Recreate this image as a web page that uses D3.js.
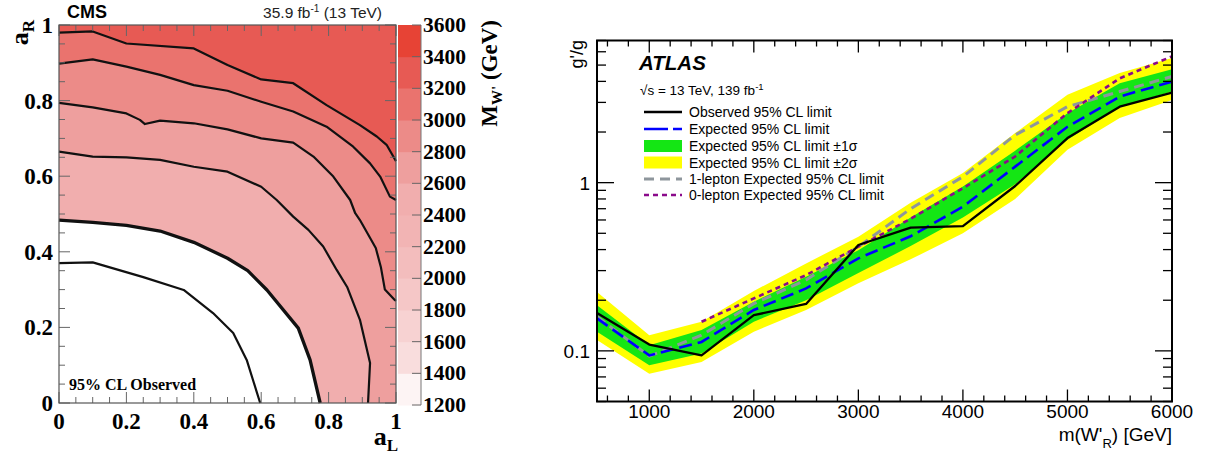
<!DOCTYPE html>
<html>
<head>
<meta charset="utf-8">
<script src="https://cdn.jsdelivr.net/npm/d3@7"></script>
<style>
  body { margin: 0; background: #fff; }
  svg { display: block; }
</style>
</head>
<body>
<div id="chart"></div>
<script>
// ---------- left panel data (CMS, a_L vs a_R contours) ----------
let contourLevels = [3200, 3000, 2800, 2600, 2400, 2200];
let contour3200 = [[0,0.98],[0.1,0.983],[0.2,0.951],[0.4,0.938],[0.5,0.894],[0.6,0.856],[0.695,0.846],[0.794,0.788],[0.893,0.735],[0.943,0.705],[0.972,0.683],[0.992,0.652],[1,0.64]];
let contour3000 = [[0,0.898],[0.1,0.909],[0.2,0.89],[0.3,0.868],[0.4,0.841],[0.5,0.826],[0.6,0.797],[0.695,0.771],[0.794,0.731],[0.873,0.678],[0.923,0.634],[0.953,0.599],[0.982,0.546],[1,0.537]];
let contour2800 = [[0,0.794],[0.1,0.782],[0.2,0.766],[0.24,0.749],[0.255,0.738],[0.3,0.747],[0.4,0.74],[0.5,0.724],[0.6,0.7],[0.695,0.689],[0.755,0.652],[0.814,0.599],[0.864,0.537],[0.879,0.502],[0.893,0.484],[0.94,0.41],[0.955,0.36],[0.967,0.3],[0.997,0.272],[1,0.27]];
let contour2600 = [[0,0.665],[0.1,0.652],[0.2,0.65],[0.3,0.643],[0.4,0.625],[0.5,0.612],[0.6,0.572],[0.646,0.537],[0.695,0.493],[0.74,0.458],[0.784,0.414],[0.824,0.352],[0.855,0.307],[0.893,0.22],[0.923,0.106],[0.917,0]];
let contour2400 = [[0,0.484],[0.1,0.478],[0.2,0.47],[0.3,0.455],[0.4,0.425],[0.5,0.383],[0.56,0.35],[0.617,0.299],[0.71,0.198],[0.745,0.114],[0.775,0]];
let contour2200 = [[0,0.37],[0.1,0.372],[0.25,0.333],[0.37,0.299],[0.457,0.238],[0.517,0.185],[0.557,0.114],[0.597,0]];
let contours = [contour3200, contour3000, contour2800, contour2600, contour2400, contour2200];

let colorbarTicks = [1200, 1400, 1600, 1800, 2000, 2200, 2400, 2600, 2800, 3000, 3200, 3400, 3600];
let bandColors = ["#fdf4f4", "#f9dddd", "#f7d2d2", "#f5c7c7", "#f3bdbd", "#f2b4b4",
                  "#f1aeae", "#ee9f9e", "#ec8b88", "#ea736e", "#e75a54", "#e74335"];
let axisTicksL = [0, 0.2, 0.4, 0.6, 0.8, 1];

// ---------- right panel data (ATLAS, g'/g vs m(W'_R)) ----------
let massPoints = [500, 1000, 1500, 2000, 2500, 3000, 3500, 4000, 4500, 5000, 5500, 6000];
let observed   = [0.168, 0.109, 0.094, 0.163, 0.19, 0.426, 0.54, 0.552, 0.955, 1.84, 2.83, 3.43];
let expected   = [0.156, 0.094, 0.113, 0.175, 0.235, 0.355, 0.48, 0.72, 1.245, 2.15, 3.25, 3.99];
let exp1Up     = [0.187, 0.108, 0.133, 0.196, 0.276, 0.397, 0.62, 0.95, 1.55, 2.59, 3.9, 4.73];
let exp1Down   = [0.13, 0.082, 0.0965, 0.149, 0.2, 0.29, 0.42, 0.62, 0.98, 1.8, 2.83, 3.48];
let exp2Up     = [0.224, 0.124, 0.149, 0.227, 0.331, 0.477, 0.76, 1.14, 1.97, 3.33, 4.48, 5.5];
let exp2Down   = [0.116, 0.073, 0.086, 0.13, 0.175, 0.252, 0.35, 0.5, 0.8, 1.57, 2.42, 3.1];
let oneLepton  = [0.16, 0.093, 0.124, 0.191, 0.264, 0.416, 0.7, 1.085, 1.92, 2.83, 3.48, 4.28];
let zeroLeptonMass = [1500, 2000, 2500, 3000, 3500, 4000, 4500, 5000, 5500, 6000];
let zeroLepton = [0.149, 0.205, 0.282, 0.416, 0.61, 0.926, 1.43, 2.59, 4.17, 5.63];
let xTicksR = [1000, 2000, 3000, 4000, 5000, 6000];
let yLabelTicksR = [0.1, 1];

let legendLabels = ["Observed 95% CL limit", "Expected 95% CL limit", "Expected 95% CL limit \u00b11\u03c3",
                    "Expected 95% CL limit \u00b12\u03c3", "1-lepton Expected 95% CL limit", "0-lepton Expected 95% CL limit"];

let svgWidth = 1205;
let svgHeight = 459;

let svg = d3.select("#chart").append("svg")
    .attr("width", svgWidth)
    .attr("height", svgHeight);

// =================== LEFT PANEL ===================
let serif = "'Liberation Serif', 'Times New Roman', serif";
let sans = "'Liberation Sans', Arial, Helvetica, sans-serif";

let xL = d3.scaleLinear().domain([0, 1]).range([59, 396]);
let yL = d3.scaleLinear().domain([0, 1]).range([403, 25]);
let zC = d3.scaleLinear().domain([1200, 3600]).range([405, 25]);

function bandIndex(level) { return Math.floor((level - 1200) / 200); }

let left = svg.append("g");

left.append("rect")
    .attr("x", xL(0)).attr("y", yL(1))
    .attr("width", xL(1) - xL(0)).attr("height", yL(0) - yL(1))
    .attr("fill", "#fff");

// fill region outside each contour, lowest level first
let lineL = d3.line().x(d => xL(d[0])).y(d => yL(d[1]));
for (let i = contours.length - 2; i >= 0; i--) {
    let pts = contours[i].slice();
    let last = pts[pts.length - 1];
    if (last[1] === 0) pts.push([1, 0]);
    pts.push([1, 1]);
    pts.push([0, 1]);
    left.append("path")
        .attr("d", lineL(pts) + "Z")
        .attr("fill", bandColors[bandIndex(contourLevels[i])]);
}

contours.forEach((c, i) => {
    left.append("path")
        .attr("d", lineL(c))
        .attr("fill", "none")
        .attr("stroke", "#111")
        .attr("stroke-width", contourLevels[i] === 2400 ? 3.3 : 2.2)
        .attr("stroke-linejoin", "round");
});

// ticks (inward on all four sides)
let tickColor = "#666";
let minorL = d3.range(0, 1.0001, 0.05);
minorL.forEach(v => {
    let major = Math.abs(v * 5 - Math.round(v * 5)) < 1e-6;
    let len = major ? 11 : 6;
    left.append("line").attr("x1", xL(0)).attr("x2", xL(0) + len).attr("y1", yL(v)).attr("y2", yL(v)).attr("stroke", tickColor);
    left.append("line").attr("x1", xL(1)).attr("x2", xL(1) - len).attr("y1", yL(v)).attr("y2", yL(v)).attr("stroke", tickColor);
    left.append("line").attr("x1", xL(v)).attr("x2", xL(v)).attr("y1", yL(0)).attr("y2", yL(0) - len).attr("stroke", tickColor);
    left.append("line").attr("x1", xL(v)).attr("x2", xL(v)).attr("y1", yL(1)).attr("y2", yL(1) + len).attr("stroke", tickColor);
});

left.append("rect")
    .attr("x", xL(0)).attr("y", yL(1))
    .attr("width", xL(1) - xL(0)).attr("height", yL(0) - yL(1))
    .attr("fill", "none").attr("stroke", "#555").attr("stroke-width", 1.2);

// tick labels
axisTicksL.forEach(v => {
    left.append("text")
        .attr("x", 53).attr("y", yL(v) + 8)
        .attr("text-anchor", "end")
        .attr("font-family", serif).attr("font-weight", "bold").attr("font-size", 23)
        .text(d3.format("~g")(v));
    left.append("text")
        .attr("x", xL(v)).attr("y", 429)
        .attr("text-anchor", "middle")
        .attr("font-family", serif).attr("font-weight", "bold").attr("font-size", 23)
        .text(d3.format("~g")(v));
});

// axis titles
let aL = left.append("text")
    .attr("x", 398).attr("y", 445)
    .attr("text-anchor", "end")
    .attr("font-family", serif).attr("font-weight", "bold").attr("font-size", 26);
aL.append("tspan").text("a");
aL.append("tspan").attr("dy", 6).attr("font-size", 17).text("L");

let aR = left.append("text")
    .attr("transform", "translate(28,20) rotate(-90)")
    .attr("text-anchor", "end")
    .attr("font-family", serif).attr("font-weight", "bold").attr("font-size", 26);
aR.append("tspan").text("a");
aR.append("tspan").attr("dy", 6).attr("font-size", 17).text("R");

left.append("text")
    .attr("x", 67).attr("y", 18)
    .attr("font-family", sans).attr("font-weight", "bold").attr("font-size", 18)
    .text("CMS");

let lumi = left.append("text")
    .attr("x", 382).attr("y", 18)
    .attr("text-anchor", "end")
    .attr("font-family", sans).attr("font-size", 15.5).attr("fill", "#222");
lumi.append("tspan").text("35.9 fb");
lumi.append("tspan").attr("dy", -6).attr("font-size", 10).text("-1");
lumi.append("tspan").attr("dy", 6).text(" (13 TeV)");

left.append("text")
    .attr("x", 69).attr("y", 390)
    .attr("font-family", serif).attr("font-weight", "bold").attr("font-size", 16)
    .text("95% CL Observed");

// colour bar
let cbX0 = 398, cbX1 = 421;
bandColors.forEach((c, i) => {
    let lo = colorbarTicks[i], hi = colorbarTicks[i + 1];
    left.append("rect")
        .attr("x", cbX0).attr("y", zC(hi))
        .attr("width", cbX1 - cbX0).attr("height", zC(lo) - zC(hi) + 0.5)
        .attr("fill", c);
});
left.append("line").attr("x1", cbX1).attr("x2", cbX1).attr("y1", zC(1200)).attr("y2", zC(3600)).attr("stroke", "#777");
colorbarTicks.forEach(v => {
    left.append("line")
        .attr("x1", cbX1).attr("x2", cbX1 - 9)
        .attr("y1", zC(v)).attr("y2", zC(v))
        .attr("stroke", "#666");
    left.append("text")
        .attr("x", 423).attr("y", zC(v) + 7)
        .attr("font-family", serif).attr("font-weight", "bold").attr("font-size", 21.5)
        .text(v);
});

let mw = left.append("text")
    .attr("transform", "translate(497,20) rotate(-90)")
    .attr("text-anchor", "end")
    .attr("font-family", serif).attr("font-weight", "bold").attr("font-size", 23);
mw.append("tspan").text("M");
mw.append("tspan").attr("dy", 5).attr("font-size", 15).text("W'");
mw.append("tspan").attr("dy", -5).text(" (GeV)");

// =================== RIGHT PANEL ===================
let xR = d3.scaleLinear().domain([500, 6000]).range([597, 1172]);
let yR = d3.scaleLog().domain([0.05, 7]).range([401.5, 40.5]);

let right = svg.append("g");

let band2 = massPoints.map((m, i) => ({ m: m, lo: exp2Down[i], hi: exp2Up[i] }));
let band1 = massPoints.map((m, i) => ({ m: m, lo: exp1Down[i], hi: exp1Up[i] }));

let area = d3.area()
    .x(d => xR(d.m))
    .y0(d => yR(d.lo))
    .y1(d => yR(d.hi));

right.append("path").attr("d", area(band2)).attr("fill", "#ffff00");
right.append("path").attr("d", area(band1)).attr("fill", "#14e614");

let lineR = d3.line().x(d => xR(d[0])).y(d => yR(d[1]));

right.append("path")
    .attr("d", lineR(massPoints.map((m, i) => [m, oneLepton[i]])))
    .attr("fill", "none").attr("stroke", "#8e969c").attr("stroke-width", 3)
    .attr("stroke-dasharray", "10,6");

right.append("path")
    .attr("d", lineR(zeroLeptonMass.map((m, i) => [m, zeroLepton[i]])))
    .attr("fill", "none").attr("stroke", "#8b0a8b").attr("stroke-width", 2.6)
    .attr("stroke-dasharray", "5,4");

right.append("path")
    .attr("d", lineR(massPoints.map((m, i) => [m, expected[i]])))
    .attr("fill", "none").attr("stroke", "#0000ff").attr("stroke-width", 2.6)
    .attr("stroke-dasharray", "13,6");

right.append("path")
    .attr("d", lineR(massPoints.map((m, i) => [m, observed[i]])))
    .attr("fill", "none").attr("stroke", "#000").attr("stroke-width", 2.3)
    .attr("stroke-linejoin", "round");

// frame & ticks
let fx0 = xR(500), fx1 = xR(6000), fy0 = yR(7), fy1 = yR(0.05);
d3.range(600, 6000, 200).forEach(v => {
    let major = v % 1000 === 0;
    let len = major ? 12 : 6;
    right.append("line").attr("x1", xR(v)).attr("x2", xR(v)).attr("y1", fy1).attr("y2", fy1 - len).attr("stroke", "#000").attr("stroke-width", 1.3);
    right.append("line").attr("x1", xR(v)).attr("x2", xR(v)).attr("y1", fy0).attr("y2", fy0 + len).attr("stroke", "#000").attr("stroke-width", 1.3);
});
let yTicksR = [0.05, 0.06, 0.07, 0.08, 0.09, 0.1, 0.2, 0.3, 0.4, 0.5, 0.6, 0.7, 0.8, 0.9, 1, 2, 3, 4, 5, 6, 7];
yTicksR.forEach(v => {
    let major = yLabelTicksR.indexOf(v) >= 0;
    let len = major ? 17 : 9;
    right.append("line").attr("x1", fx0).attr("x2", fx0 + len).attr("y1", yR(v)).attr("y2", yR(v)).attr("stroke", "#000").attr("stroke-width", 1.3);
    right.append("line").attr("x1", fx1).attr("x2", fx1 - len).attr("y1", yR(v)).attr("y2", yR(v)).attr("stroke", "#000").attr("stroke-width", 1.3);
});
right.append("rect")
    .attr("x", fx0).attr("y", fy0)
    .attr("width", fx1 - fx0).attr("height", fy1 - fy0)
    .attr("fill", "none").attr("stroke", "#000").attr("stroke-width", 2);

xTicksR.forEach(v => {
    right.append("text")
        .attr("x", xR(v)).attr("y", 418)
        .attr("text-anchor", "middle")
        .attr("font-family", sans).attr("font-size", 19)
        .text(v);
});
yLabelTicksR.forEach(v => {
    right.append("text")
        .attr("x", 590).attr("y", yR(v) + 7)
        .attr("text-anchor", "end")
        .attr("font-family", sans).attr("font-size", 19)
        .text(v);
});

let xTitle = right.append("text")
    .attr("x", fx1).attr("y", 440.5)
    .attr("text-anchor", "end")
    .attr("font-family", sans).attr("font-size", 19);
xTitle.append("tspan").text("m(W'");
xTitle.append("tspan").attr("dy", 7).attr("font-size", 13).text("R");
xTitle.append("tspan").attr("dy", -7).text(") [GeV]");

right.append("text")
    .attr("transform", "translate(583,40) rotate(-90)")
    .attr("text-anchor", "end")
    .attr("font-family", sans).attr("font-size", 18)
    .text("g'/g");

// ATLAS label & legend
right.append("text")
    .attr("x", 639).attr("y", 70)
    .attr("font-family", sans).attr("font-weight", "bold").attr("font-style", "italic").attr("font-size", 20.5)
    .text("ATLAS");

let sqrtS = right.append("text")
    .attr("x", 640).attr("y", 95)
    .attr("font-family", sans).attr("font-size", 13.5);
sqrtS.append("tspan").text("\u221as = 13 TeV, 139 fb");
sqrtS.append("tspan").attr("dy", -5).attr("font-size", 9.5).text("-1");

let legendY = [112, 129, 146, 162.5, 179, 195];
let lx0 = 644, lx1 = 682;
let legendStyles = [
    { c: "#000", w: 2.3, d: null },
    { c: "#0000ff", w: 2.6, d: "24,5" },
    { fill: "#14e614" },
    { fill: "#ffff00" },
    { c: "#8e969c", w: 3, d: "10,6" },
    { c: "#8b0a8b", w: 2.6, d: "5,4" }
];
legendLabels.forEach((label, i) => {
    let y = legendY[i];
    let s = legendStyles[i];
    if (s.fill) {
        right.append("rect")
            .attr("x", lx0).attr("y", y - 6)
            .attr("width", lx1 - lx0).attr("height", 12)
            .attr("fill", s.fill);
    } else {
        right.append("line")
            .attr("x1", lx0).attr("x2", lx1).attr("y1", y).attr("y2", y)
            .attr("stroke", s.c).attr("stroke-width", s.w)
            .attr("stroke-dasharray", s.d);
    }
    right.append("text")
        .attr("x", 689).attr("y", y + 5)
        .attr("font-family", sans).attr("font-size", 14)
        .text(label);
});
</script>
</body>
</html>
